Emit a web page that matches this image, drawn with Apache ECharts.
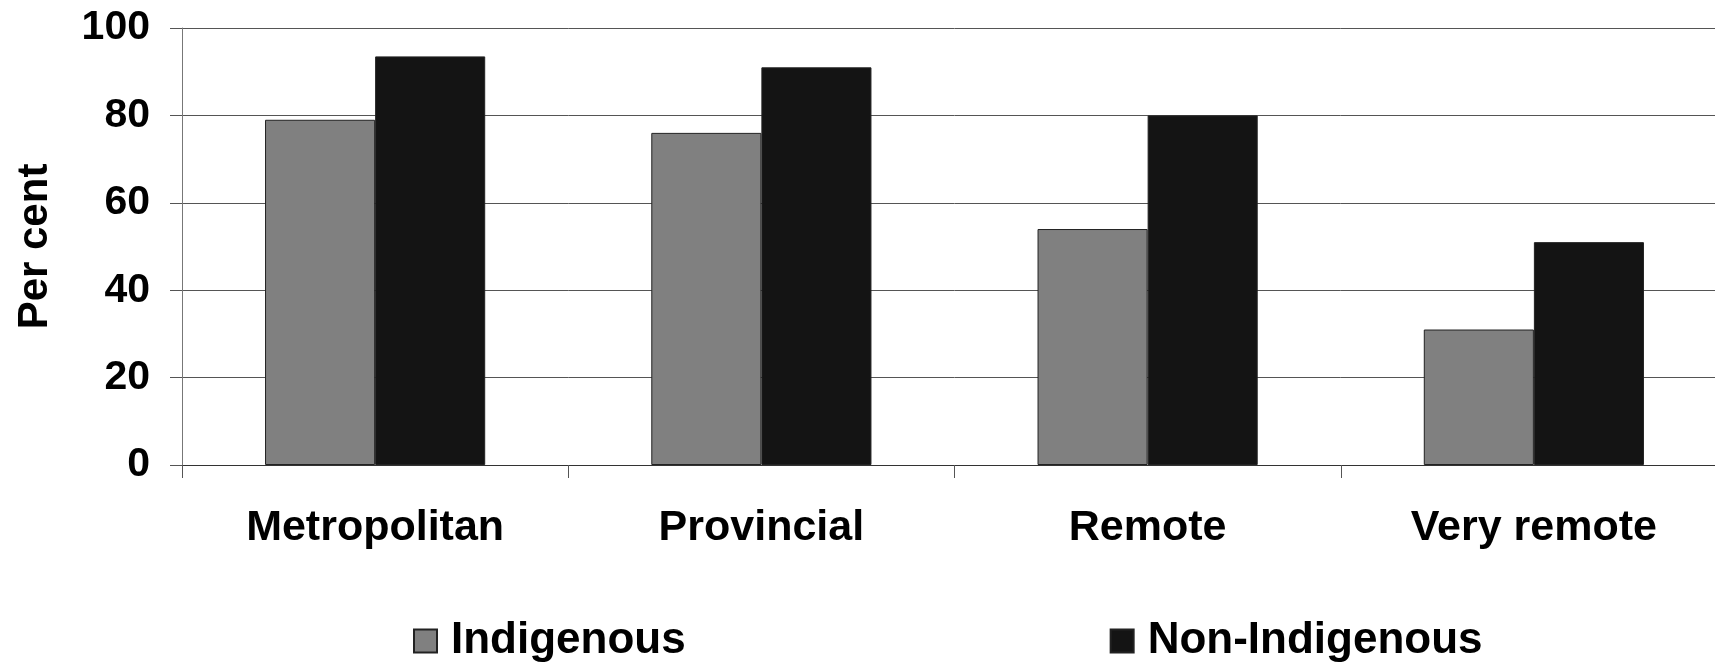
<!DOCTYPE html>
<html>
<head>
<meta charset="utf-8">
<script src="https://cdn.jsdelivr.net/npm/echarts@6/dist/echarts.min.js"></script>
<style>
  html, body { margin: 0; padding: 0; background: #fff; overflow: hidden; }
  #bar_chart { width: 1727px; height: 662px; }
</style>
</head>
<body>
<div id="bar_chart"></div>
<script>
var categories = ["Metropolitan", "Provincial", "Remote", "Very remote"];
var indigenous = [79, 76, 54, 31];
var nonIndigenous = [93.5, 91, 80, 51];
var yTicks = { min: 0, max: 100, interval: 20 };

var chartDom = document.getElementById("bar_chart");
var myChart = echarts.init(chartDom);
var option;

var font = "'Liberation Sans', Arial, sans-serif";

option = {
  animation: false,
  textStyle: { fontFamily: font },
  legend: {
    left: 413,
    top: 619,
    padding: 0,
    itemWidth: 23,
    itemHeight: 23,
    itemGap: 424,
    icon: "rect",
    textStyle: {
      fontFamily: font,
      fontSize: 44,
      fontWeight: "bold",
      color: "#000",
      padding: [0, 0, 0, 9],
    },
    data: ["Indigenous", "Non-Indigenous"],
  },
  grid: {
    left: 182,
    right: 0,
    top: 28,
    bottom: 197,
    containLabel: false,
  },
  xAxis: {
    type: "category",
    data: categories,
    axisLine: { lineStyle: { color: "#333", width: 1 } },
    axisTick: { show: true, length: 13, lineStyle: { color: "#555" } },
    axisLabel: {
      margin: 42,
      fontFamily: font,
      fontSize: 43,
      fontWeight: "bold",
      color: "#000",
    },
  },
  yAxis: {
    type: "value",
    min: yTicks.min,
    max: yTicks.max,
    interval: yTicks.interval,
    name: "Per cent",
    nameLocation: "middle",
    nameRotate: 90,
    nameGap: 126,
    nameTextStyle: {
      fontFamily: font,
      fontSize: 42,
      fontWeight: "bold",
      color: "#000",
    },
    axisLine: { show: true, lineStyle: { color: "#777", width: 1 } },
    axisTick: { show: true, length: 12, lineStyle: { color: "#555" } },
    axisLabel: {
      margin: 32,
      fontFamily: font,
      fontSize: 41,
      fontWeight: "bold",
      color: "#000",
    },
    splitLine: { show: true, lineStyle: { color: "#555", width: 1 } },
  },
  series: [
    {
      name: "Indigenous",
      type: "bar",
      data: indigenous,
      barGap: "0%",
      barCategoryGap: "43%",
      itemStyle: { color: "#808080", borderColor: "#222", borderWidth: 1 },
    },
    {
      name: "Non-Indigenous",
      type: "bar",
      data: nonIndigenous,
      barGap: "0%",
      barCategoryGap: "43%",
      itemStyle: { color: "#141414", borderColor: "#222", borderWidth: 1 },
    },
  ],
};

option && myChart.setOption(option);
</script>
</body>
</html>
